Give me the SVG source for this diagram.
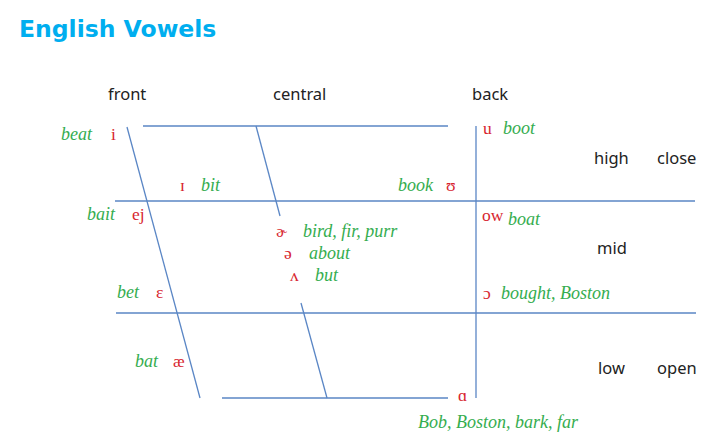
<svg xmlns="http://www.w3.org/2000/svg" width="728" height="447" viewBox="0 0 728 447">
<style>
.title{font-family:"DejaVu Sans",Verdana,sans-serif;font-weight:bold;font-size:23.5px;fill:#00aeef}
.lab{font-family:"Noto Sans","Open Sans",sans-serif;font-size:16.5px;fill:#222}
.ex{font-family:"Liberation Serif","DejaVu Serif",serif;font-style:italic;font-size:18px;fill:#35ad4f}
.ipa{font-family:"Liberation Serif","DejaVu Serif",serif;font-size:17.5px;fill:#d7262f}
.ln{stroke:#5a86c5;stroke-width:1.3;fill:none}
</style>
<rect width="728" height="447" fill="#fff"/>
<text class="title" x="19" y="37">English Vowels</text>
<g id="grid">
<line class="ln" x1="143" y1="126" x2="448" y2="126"/>
<line class="ln" x1="115" y1="201" x2="695" y2="201"/>
<line class="ln" x1="116" y1="313" x2="696" y2="313"/>
<line class="ln" x1="222" y1="398" x2="448" y2="398"/>
<line class="ln" x1="476" y1="126" x2="476" y2="398"/>
<line class="ln" x1="127" y1="127" x2="200" y2="398"/>
<line class="ln" x1="256" y1="126" x2="280" y2="216"/>
<line class="ln" x1="301" y1="303" x2="327" y2="398"/>
</g>
<g id="axis-labels">
<text class="lab" x="108" y="100">front</text>
<text class="lab" x="273" y="100">central</text>
<text class="lab" x="472" y="100">back</text>
<text class="lab" x="594" y="164">high</text>
<text class="lab" x="657" y="164">close</text>
<text class="lab" x="597" y="254">mid</text>
<text class="lab" x="598" y="374">low</text>
<text class="lab" x="657" y="374">open</text>
</g>
<g id="vowels">
<text class="ex" x="61" y="140">beat</text><text class="ipa" x="111" y="140">i</text>
<text class="ipa" x="180" y="191">ɪ</text><text class="ex" x="201" y="191">bit</text>
<text class="ex" x="398" y="191">book</text><text class="ipa" x="446" y="191">ʊ</text>
<text class="ipa" x="483" y="134">u</text><text class="ex" x="503" y="134">boot</text>
<text class="ex" x="87" y="220">bait</text><text class="ipa" x="132" y="220">ej</text>
<text class="ipa" x="482" y="221">ow</text><text class="ex" x="508" y="225">boat</text>
<text class="ipa" x="276" y="237">ɚ</text><text class="ex" x="303" y="237">bird, fir, purr</text>
<text class="ipa" x="284" y="259">ə</text><text class="ex" x="309" y="259">about</text>
<text class="ipa" x="290" y="281">ʌ</text><text class="ex" x="315" y="281">but</text>
<text class="ex" x="117" y="298">bet</text><text class="ipa" x="156" y="298">ɛ</text>
<text class="ipa" x="483" y="299">ɔ</text><text class="ex" x="501" y="299">bought, Boston</text>
<text class="ex" x="135" y="367">bat</text><text class="ipa" x="173" y="367">æ</text>
<text class="ipa" x="458" y="401">ɑ</text>
<text class="ex" x="418" y="428">Bob, Boston, bark, far</text>
</g>
</svg>
